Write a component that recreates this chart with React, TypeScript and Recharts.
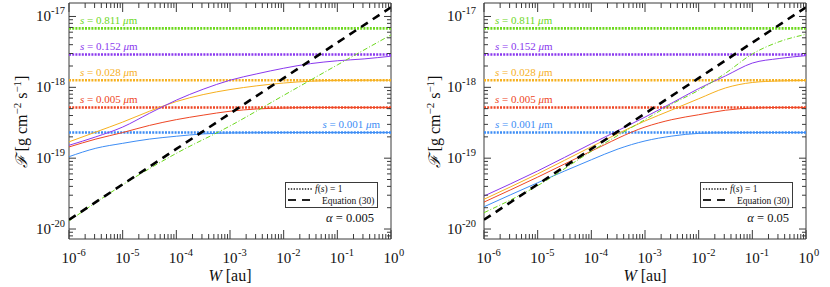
import React from 'react';
import { LineChart, Line, XAxis, YAxis, ReferenceLine, ReferenceArea } from 'recharts';

// W grid (au), half-decade steps; null = not read at that W
const W = [1e-6, 3.16e-6, 1e-5, 3.16e-5, 1e-4, 3.16e-4, 1e-3, 3.16e-3, 1e-2, 3.16e-2, 1e-1, 3.16e-1, 1];

// Equation (30), same in both panels
const eqn30 = [1.35e-20, null, 4.27e-20, null, 1.35e-19, null, 4.27e-19, null, 1.35e-18, null, 4.27e-18, null, 1.35e-17];

// alpha = 0.005 panel
const lowBlue = [1.05e-19, 1.38e-19, 1.62e-19, 1.86e-19, 2.04e-19, 2.2e-19, 2.27e-19, 2.29e-19, 2.3e-19, 2.3e-19, 2.3e-19, 2.3e-19, 2.3e-19];
const lowRed = [1.44e-19, 1.86e-19, 2.3e-19, 2.9e-19, 3.5e-19, 4.05e-19, 4.6e-19, 4.95e-19, 5.1e-19, 5.2e-19, 5.2e-19, 5.2e-19, 5.2e-19];
const lowOrange = [1.7e-19, 2.34e-19, 3.23e-19, 4.6e-19, 6.3e-19, 7.9e-19, 9.3e-19, 1.05e-18, 1.15e-18, 1.22e-18, 1.25e-18, 1.26e-18, 1.26e-18];
const lowPurple = [1.52e-19, 2.0e-19, 2.75e-19, 4.3e-19, 6.6e-19, 9.4e-19, 1.26e-18, 1.55e-18, 1.86e-18, 2.16e-18, 2.37e-18, 2.52e-18, 2.75e-18];
const lowGreen = [1.3e-20, null, 4.2e-20, null, 1.17e-19, null, 2.85e-19, null, 7.7e-19, null, 2.07e-18, null, 5.5e-18];

// alpha = 0.05 panel
const highBlue = [2.06e-20, null, 4.5e-20, null, 9.5e-20, 1.35e-19, 1.75e-19, 2.05e-19, 2.24e-19, 2.29e-19, 2.3e-19, 2.3e-19, 2.3e-19];
const highRed = [2.4e-20, null, 5.4e-20, null, 1.26e-19, null, 2.75e-19, 3.5e-19, 4.1e-19, 4.75e-19, 5.1e-19, 5.2e-19, 5.2e-19];
const highOrange = [2.63e-20, null, 6.0e-20, null, 1.45e-19, null, 3.35e-19, 4.8e-19, 6.9e-19, 9.8e-19, 1.17e-18, 1.23e-18, 1.25e-18];
const highPurple = [2.92e-20, null, 6.6e-20, null, 1.6e-19, null, 3.8e-19, 6.0e-19, 9.6e-19, 1.45e-18, 2.2e-18, 2.55e-18, 2.8e-18];
const highGreen = [1.7e-20, null, 4.1e-20, null, 1.25e-19, null, 3.5e-19, 5.8e-19, 9.1e-19, 1.58e-18, 2.96e-18, 4.4e-18, 5.6e-18];

// f(s) = 1 levels, smallest grain first
const grainSizes = ['0.001', '0.005', '0.028', '0.152', '0.811'];
const levels = [2.3e-19, 5.2e-19, 1.26e-18, 2.9e-18, 6.8e-18];
const seriesKeys = ['blue', 'red', 'orange', 'purple', 'green'];
const colors = ['#3d8df5', '#ee4624', '#f6b01e', '#8a38ee', '#6cd81c'];

const xMajor = [1e-6, 1e-5, 1e-4, 1e-3, 1e-2, 1e-1, 1];
const xExp = ['-6', '-5', '-4', '-3', '-2', '-1', '0'];
const yMajor = [1e-20, 1e-19, 1e-18, 1e-17];
const yExp = ['-20', '-19', '-18', '-17'];

const Y_MIN = 7.23e-21;
const Y_MAX = 1.55e-17;

const PW = 415;
const PH = 287;
const TOP = 3;
const BOTTOM = 239;
const LEFT = 69;
const RIGHT = 391;
const AXIS = '#3a3a3a';
const FONT = "'Liberation Serif', 'DejaVu Serif', serif";
const serif = { fontFamily: FONT };

const minorTicks = (majors: number[], lo: number, hi: number) => {
  const out: number[] = [];
  majors.forEach((d) => {
    out.push(d);
    [2, 3, 4, 5, 6, 7, 8, 9].forEach((m) => out.push((d / 10) * m));
  });
  out.push(majors[majors.length - 1] * 2);
  return out.filter((v) => v >= lo && v <= hi).sort((a, b) => a - b);
};

const xTicks = minorTicks(xMajor, 1e-6, 1);
const yTicks = minorTicks(yMajor, Y_MIN, Y_MAX);

const XTick = (props: any) => {
  const { x, payload } = props;
  const i = xMajor.indexOf(payload.value);
  const len = i >= 0 ? 9 : 5;
  return (
    <g>
      <line x1={x} x2={x} y1={BOTTOM} y2={BOTTOM - len} stroke={AXIS} />
      <line x1={x} x2={x} y1={TOP} y2={TOP + len} stroke={AXIS} />
      {i >= 0 && (
        <g style={serif} fill="#111">
          <text x={x} y={263} fontSize={15} textAnchor="middle">10</text>
          <text x={x + 8} y={256} fontSize={10.5}>{xExp[i]}</text>
        </g>
      )}
    </g>
  );
};

const YTick = (props: any) => {
  const { y, payload, gap } = props;
  const i = yMajor.indexOf(payload.value);
  const len = i >= 0 ? 7 : 4;
  return (
    <g>
      <line x1={LEFT} x2={LEFT + len} y1={y} y2={y} stroke={AXIS} />
      <line x1={RIGHT} x2={RIGHT - len} y1={y} y2={y} stroke={AXIS} />
      {i >= 0 && (
        <g style={serif} fill="#111">
          <text x={LEFT - gap - 16} y={y + 5} fontSize={15} textAnchor="end">10</text>
          <text x={LEFT - gap - 16} y={y - 2} fontSize={10.5}>{yExp[i]}</text>
        </g>
      )}
    </g>
  );
};

const SizeLabel = (props: any) => {
  const { viewBox, size, color, alignRight } = props;
  if (!viewBox) return null;
  const tx = alignRight ? viewBox.x + viewBox.width - 11 : viewBox.x + 11;
  return (
    <text x={tx} y={viewBox.y - 4.5} textAnchor={alignRight ? 'end' : 'start'} fill={color} style={serif} fontSize={11}>
      <tspan fontStyle="italic">s</tspan> = {size} <tspan fontStyle="italic">μ</tspan>m
    </text>
  );
};

const Overlay = ({ alpha, labelX }: { alpha: string; labelX: number }) => (
  <svg width={PW} height={PH} style={{ position: 'absolute', left: 0, top: 0, pointerEvents: 'none', fontFamily: FONT }} fill="#111">
    <text transform={`translate(${labelX},122) rotate(-90)`} textAnchor="middle" fontSize={16}>
      <tspan fontStyle="italic">ℱ</tspan> [g cm<tspan fontSize={11} dy={-6}>−2</tspan>
      <tspan dy={6}> s</tspan>
      <tspan fontSize={11} dy={-6}>−1</tspan>
      <tspan dy={6}>]</tspan>
    </text>
    <text x={230} y={281} textAnchor="middle" fontSize={16}>
      <tspan fontStyle="italic">W</tspan> [au]
    </text>
    <rect x={285.5} y={182.5} width={92} height={25} fill="#fff" stroke={AXIS} strokeWidth={1} />
    <line x1={288} x2={313} y1={189} y2={189} stroke="#222" strokeWidth={1.4} strokeDasharray="1.4 1.4" />
    <text x={315} y={192} fontSize={9.5}>
      <tspan fontStyle="italic">f</tspan>(<tspan fontStyle="italic">s</tspan>) = 1
    </text>
    <line x1={288} x2={313} y1={200} y2={200} stroke="#222" strokeWidth={2.2} strokeDasharray="8 6" />
    <text x={322} y={203.5} fontSize={9.5}>Equation (30)</text>
    <text x={374} y={222} textAnchor="end" fontSize={12.5}>
      <tspan fontStyle="italic">α</tspan> = {alpha}
    </text>
  </svg>
);

type PanelProps = {
  alpha: string;
  curves: (number | null)[][];
  blueRight: boolean;
  gap: number;
  labelX: number;
};

const Panel = ({ alpha, curves, blueRight, gap, labelX }: PanelProps) => {
  const rows = W.map((w, i) => {
    const row: Record<string, number | null> = { w, eq: eqn30[i] };
    seriesKeys.forEach((k, j) => {
      row[k] = curves[j][i];
    });
    return row;
  });
  return (
    <div style={{ position: 'relative', width: PW, height: PH }}>
      <LineChart width={PW} height={PH} data={rows} margin={{ top: TOP, right: PW - RIGHT, bottom: PH - BOTTOM - 1, left: LEFT - 1 }}>
        <XAxis
          dataKey="w"
          type="number"
          scale="log"
          domain={[1e-6, 1]}
          allowDataOverflow
          ticks={xTicks}
          interval={0}
          height={1}
          tickSize={0}
          tickMargin={0}
          tickLine={false}
          axisLine={false}
          tick={<XTick />}
        />
        <YAxis
          type="number"
          scale="log"
          domain={[Y_MIN, Y_MAX]}
          allowDataOverflow
          ticks={yTicks}
          interval={0}
          width={1}
          tickSize={0}
          tickMargin={0}
          tickLine={false}
          axisLine={false}
          tick={<YTick gap={gap} />}
        />
        <ReferenceArea x1={1e-6} x2={1} y1={Y_MIN} y2={Y_MAX} fill="none" fillOpacity={0} stroke={AXIS} strokeWidth={1} />
        {levels.map((lv, j) => (
          <ReferenceLine
            key={'lv' + j}
            y={lv}
            stroke={colors[j]}
            strokeWidth={2.6}
            strokeDasharray="2 1.2"
            label={<SizeLabel size={grainSizes[j]} color={colors[j]} alignRight={blueRight && j === 0} />}
          />
        ))}
        {seriesKeys.map((k, j) => (
          <Line
            key={k}
            type="monotone"
            dataKey={k}
            stroke={colors[j]}
            strokeWidth={1}
            strokeDasharray={k === 'green' ? '5 2 1 2' : undefined}
            dot={false}
            connectNulls
            isAnimationActive={false}
          />
        ))}
        <Line type="linear" dataKey="eq" stroke="#000" strokeWidth={2.6} strokeDasharray="8 6" dot={false} connectNulls isAnimationActive={false} />
      </LineChart>
      <Overlay alpha={alpha} labelX={labelX} />
    </div>
  );
};

export default function App() {
  return (
    <div style={{ position: 'absolute', left: 0, top: 0, width: 830, height: 287, display: 'flex', background: '#fff' }}>
      <Panel alpha="0.005" curves={[lowBlue, lowRed, lowOrange, lowPurple, lowGreen]} blueRight gap={2} labelX={27} />
      <Panel alpha="0.05" curves={[highBlue, highRed, highOrange, highPurple, highGreen]} blueRight={false} gap={6} labelX={25} />
    </div>
  );
}
